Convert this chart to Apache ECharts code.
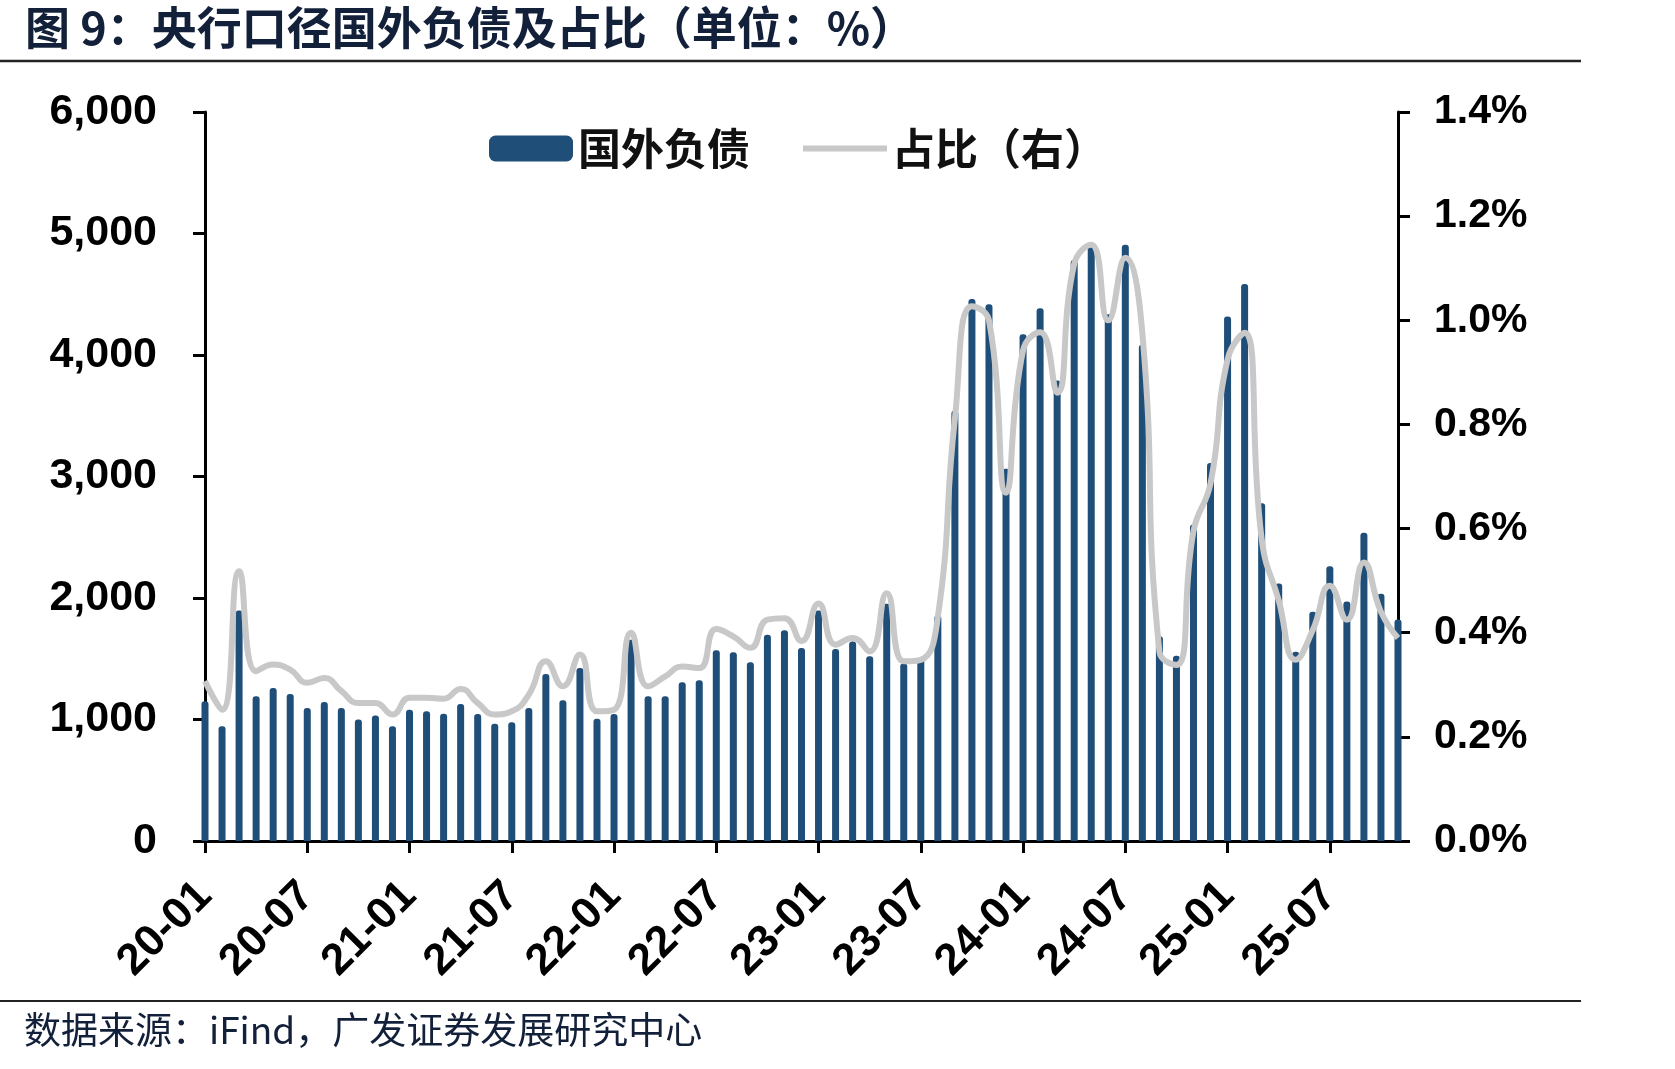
<!DOCTYPE html>
<html>
<head>
<meta charset="utf-8">
<script src="https://cdn.jsdelivr.net/npm/echarts@6/dist/echarts.min.js"></script>
<style>
  html, body { margin: 0; padding: 0; background: #fff; }
  #chart { width: 1675px; height: 1069px; }
</style>
</head>
<body>
<div id="chart"></div>
<script>
// 月份（20-01 ~ 25-11）
const months = [
  '20-01','20-02','20-03','20-04','20-05','20-06','20-07','20-08','20-09','20-10','20-11','20-12',
  '21-01','21-02','21-03','21-04','21-05','21-06','21-07','21-08','21-09','21-10','21-11','21-12',
  '22-01','22-02','22-03','22-04','22-05','22-06','22-07','22-08','22-09','22-10','22-11','22-12',
  '23-01','23-02','23-03','23-04','23-05','23-06','23-07','23-08','23-09','23-10','23-11','23-12',
  '24-01','24-02','24-03','24-04','24-05','24-06','24-07','24-08','24-09','24-10','24-11','24-12',
  '25-01','25-02','25-03','25-04','25-05','25-06','25-07','25-08','25-09','25-10','25-11'
];

// 国外负债（亿元）
const foreignLiab = [
  1150, 944, 1898, 1191, 1260, 1210, 1095, 1145, 1095, 999, 1032, 944,
  1081, 1068, 1048, 1128, 1046, 964, 977, 1095, 1375, 1158, 1424, 1007,
  1046, 1657, 1191, 1191, 1306, 1323, 1569, 1553, 1471, 1698, 1734, 1589,
  1898, 1581, 1643, 1520, 1953, 1460, 1503, 1857, 3542, 4461, 4417, 3063,
  4170, 4384, 3790, 4781, 4923, 4335, 4907, 4085, 1685, 1525, 2605, 3112,
  4316, 4584, 2780, 2120, 1557, 1887, 2262, 1971, 2537, 2036, 1823
];

// 占比（%，右轴）
const shareRatio = [
  0.307, 0.252, 0.518, 0.326, 0.339, 0.329, 0.304, 0.313, 0.288, 0.265, 0.265, 0.243,
  0.275, 0.275, 0.273, 0.292, 0.265, 0.243, 0.249, 0.281, 0.345, 0.297, 0.358, 0.249,
  0.252, 0.400, 0.297, 0.316, 0.335, 0.332, 0.407, 0.393, 0.371, 0.425, 0.428, 0.384,
  0.456, 0.377, 0.390, 0.364, 0.476, 0.345, 0.348, 0.430, 0.811, 1.027, 1.000, 0.669,
  0.942, 0.977, 0.861, 1.108, 1.145, 1.000, 1.120, 0.975, 0.364, 0.338, 0.595, 0.687,
  0.925, 0.976, 0.580, 0.462, 0.348, 0.405, 0.490, 0.425, 0.535, 0.440, 0.390
];

const leftTicks = [0, 6000, 1000];   // min, max, interval
const rightTicks = [0, 1.4, 0.2];

const chart = echarts.init(document.getElementById('chart'), null, { renderer: 'canvas' });

const numFont = '"Liberation Sans", Arial, sans-serif';
const cjkFont = '"Noto Sans CJK SC", sans-serif';

const option = {
  animation: false,
  backgroundColor: '#fff',
  title: {
    text: '图 9：央行口径国外负债及占比（单位：%）',
    left: 20,
    top: 0,
    textStyle: { fontFamily: cjkFont, fontSize: 45, fontWeight: 'bold', color: '#13203a' },
  },
  graphic: [
    { type: 'line', shape: { x1: 0, y1: 61, x2: 1581, y2: 61 }, style: { stroke: '#222', lineWidth: 2.5 } },
    { type: 'line', shape: { x1: 0, y1: 1001, x2: 1581, y2: 1001 }, style: { stroke: '#222', lineWidth: 2 } },
    {
      type: 'text', left: 24, top: 1011,
      style: { text: '数据来源：iFind，广发证券发展研究中心', font: '37px "Noto Sans CJK SC", sans-serif', fill: '#13203a' },
    },
  ],
  legend: {
    left: 484,
    top: 122,
    itemWidth: 84,
    itemHeight: 26,
    itemGap: 50,
    textStyle: { fontFamily: cjkFont, fontSize: 43, fontWeight: 'bold', color: '#111' },
    data: [
      { name: '国外负债', icon: 'roundRect' },
      { name: '占比（右）', itemStyle: { opacity: 0 }, lineStyle: { width: 6, color: '#c8c8c8' } },
    ],
  },
  grid: { left: 205, right: 277, top: 112, bottom: 228 },
  xAxis: {
    type: 'category',
    data: months,
    boundaryGap: false,
    axisLine: { lineStyle: { color: '#000', width: 3 } },
    axisTick: { interval: 5, length: 12, lineStyle: { color: '#000', width: 3 } },
    axisLabel: {
      interval: 5,
      rotate: 45,
      margin: 48,
      fontFamily: numFont,
      fontSize: 44,
      fontWeight: 'bold',
      color: '#000',
    },
  },
  yAxis: [
    {
      type: 'value',
      min: leftTicks[0],
      max: leftTicks[1],
      interval: leftTicks[2],
      axisLine: { show: true, lineStyle: { color: '#000', width: 3 } },
      axisTick: { show: true, length: 12, lineStyle: { color: '#000', width: 3 } },
      splitLine: { show: false },
      axisLabel: {
        margin: 48,
        fontFamily: numFont,
        fontSize: 43,
        fontWeight: 'bold',
        color: '#000',
        formatter: (v) => v.toLocaleString('en-US'),
      },
    },
    {
      type: 'value',
      position: 'right',
      min: rightTicks[0],
      max: rightTicks[1],
      interval: rightTicks[2],
      axisLine: { show: true, lineStyle: { color: '#000', width: 3 } },
      axisTick: { show: true, length: 12, lineStyle: { color: '#000', width: 3 } },
      splitLine: { show: false },
      axisLabel: {
        margin: 36,
        fontFamily: numFont,
        fontSize: 41,
        fontWeight: 'bold',
        color: '#000',
        formatter: (v) => v.toFixed(1) + '%',
      },
    },
  ],
  series: [
    {
      name: '国外负债',
      type: 'bar',
      data: foreignLiab,
      barWidth: 7,
      itemStyle: { color: '#1f4e79', borderRadius: [3, 3, 0, 0] },
    },
    {
      name: '占比（右）',
      type: 'line',
      yAxisIndex: 1,
      data: shareRatio,
      smooth: 0.5,
      symbol: 'none',
      lineStyle: { color: '#c8c8c8', width: 6 },
      itemStyle: { color: '#c8c8c8' },
      z: 3,
    },
  ],
};

chart.setOption(option);
</script>
</body>
</html>
